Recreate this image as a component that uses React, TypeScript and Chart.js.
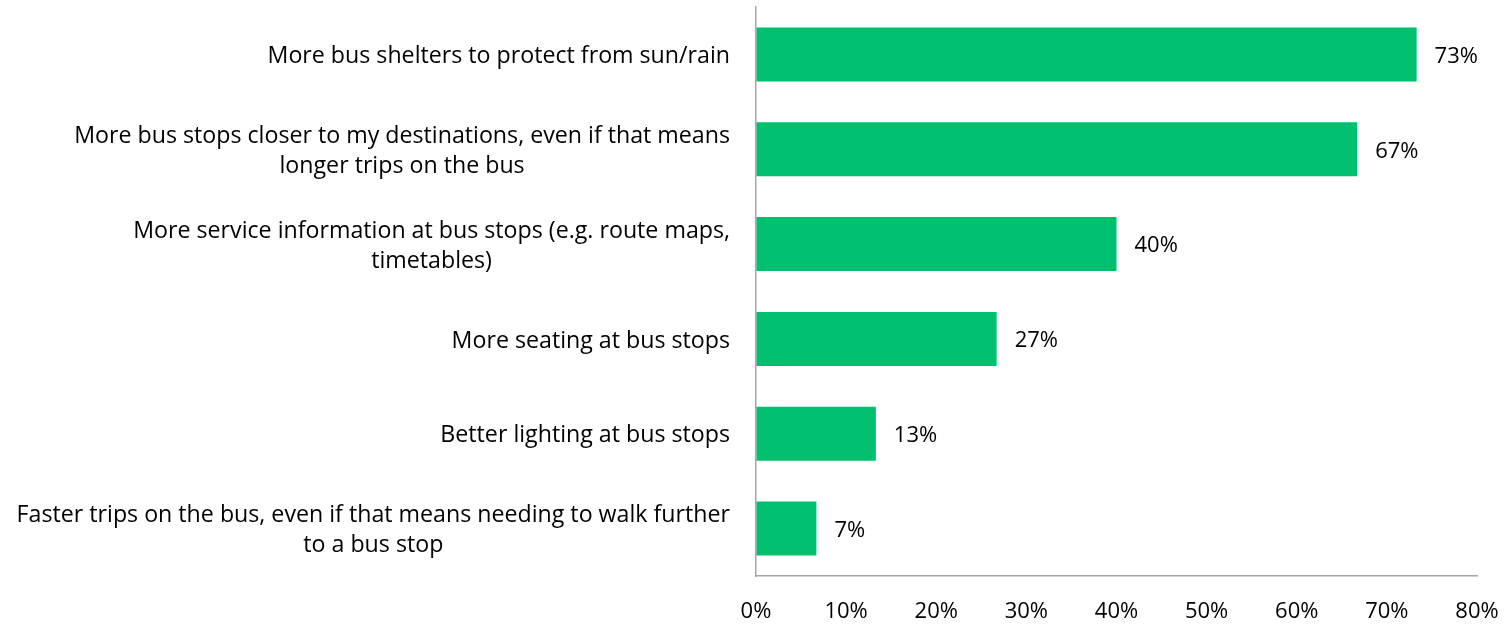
import React, { useEffect, useRef } from "react";
import { Chart, registerables } from "chart.js";

Chart.register(...registerables);

const categories: string[][] = [
  ["More bus shelters to protect from sun/rain"],
  ["More bus stops closer to my destinations, even if that means", "longer trips on the bus"],
  ["More service information at bus stops (e.g. route maps,", "timetables)"],
  ["More seating at bus stops"],
  ["Better lighting at bus stops"],
  ["Faster trips on the bus, even if that means needing to walk further", "to a bus stop"],
];
const values: number[] = [73.3, 66.7, 40.0, 26.7, 13.3, 6.7];
const xTicks: number[] = [0, 10, 20, 30, 40, 50, 60, 70, 80];

const FONT = "'Open Sans', Lato, sans-serif";
const LABEL_SIZE = 23.2;
const TICK_SIZE = 22;
const BAR_COLOR = "#00C070";
const AXIS_COLOR = "#a6a6a6";

const labelPlugin = {
  id: "customLabels",
  afterDraw(chart: any) {
    const ctx = chart.ctx;
    const yScale = chart.scales.y;
    const xScale = chart.scales.x;
    const area = chart.chartArea;
    ctx.save();
    ctx.font = `${LABEL_SIZE}px ${FONT}`;
    ctx.fillStyle = "#000";
    ctx.textBaseline = "middle";
    const lineH = 30;
    const dy = 2;
    categories.forEach((lines, i) => {
      const yc = yScale.getPixelForValue(i) + dy;
      const right = area.left - 26;
      const maxW = Math.max(...lines.map((l) => ctx.measureText(l).width));
      const startY = yc - ((lines.length - 1) * lineH) / 2;
      lines.forEach((l, j) => {
        if (lines.length === 1) {
          ctx.textAlign = "right";
          ctx.fillText(l, right, startY + j * lineH);
        } else {
          ctx.textAlign = "center";
          ctx.fillText(l, right - maxW / 2, startY + j * lineH);
        }
      });
    });
    ctx.font = `${TICK_SIZE}px ${FONT}`;
    ctx.textAlign = "left";
    values.forEach((v, i) => {
      const x = xScale.getPixelForValue(v) + 18;
      const y = yScale.getPixelForValue(i) + dy;
      ctx.fillText(`${Math.round(v)}%`, x, y);
    });
    ctx.restore();
  },
};

export default function App() {
  const ref = useRef<HTMLCanvasElement | null>(null);
  useEffect(() => {
    if (!ref.current) return;
    const chart = new Chart(ref.current, {
      type: "bar",
      data: {
        labels: categories.map((c) => c.join(" ")),
        datasets: [
          {
            data: values,
            backgroundColor: BAR_COLOR,
            borderWidth: 0,
            barPercentage: 0.57,
            categoryPercentage: 1,
          },
        ],
      },
      options: {
        indexAxis: "y",
        animation: false,
        responsive: true,
        maintainAspectRatio: false,
        layout: { padding: { top: 7, right: 33, bottom: 0, left: 0 } },
        plugins: {
          legend: { display: false },
          tooltip: { enabled: false },
        },
        scales: {
          x: {
            min: 0,
            max: 80,
            afterBuildTicks: (scale: any) => {
              scale.ticks = xTicks.map((v) => ({ value: v }));
            },
            afterFit: (scale: any) => {
              scale.height = 50;
              scale.paddingLeft = 0;
              scale.paddingRight = 0;
            },
            grid: { display: true, drawOnChartArea: false, drawTicks: false },
            border: { display: true, color: AXIS_COLOR, width: 1.5 },
            ticks: {
              padding: 23,
              color: "#000",
              font: { family: FONT, size: TICK_SIZE },
              callback: (v: any) => `${v}%`,
              maxRotation: 0,
            },
          },
          y: {
            afterFit: (scale: any) => {
              scale.width = 756;
              scale.paddingTop = 0;
              scale.paddingBottom = 0;
            },
            grid: { display: true, drawOnChartArea: false, drawTicks: false },
            border: { display: true, color: AXIS_COLOR, width: 1.5 },
            ticks: { display: false },
          },
        },
      },
      plugins: [labelPlugin],
    });
    return () => chart.destroy();
  }, []);
  return (
    <div style={{ position: "fixed", left: 0, top: 0, width: 1510, height: 626, background: "#fff" }}>
      <canvas ref={ref} />
    </div>
  );
}
